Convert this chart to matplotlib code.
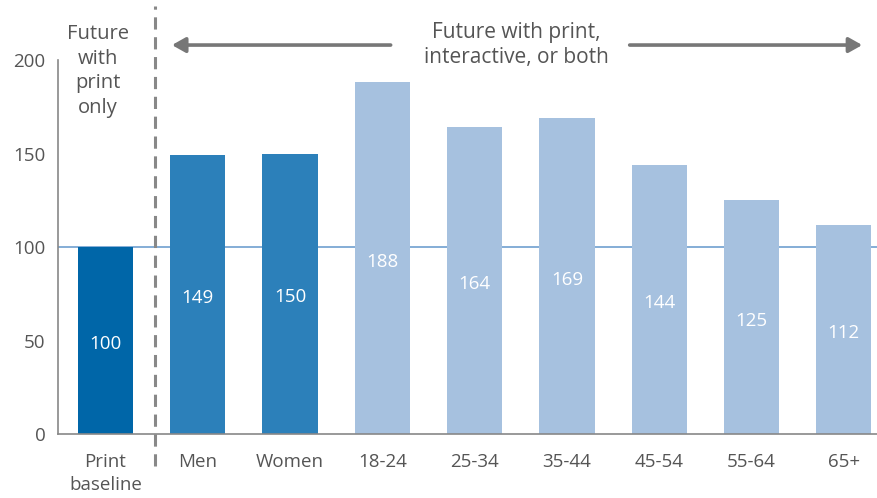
import matplotlib
matplotlib.use("Agg")
import matplotlib.pyplot as plt

plt.rcParams["font.family"] = ["Open Sans", "DejaVu Sans"]

# data
categories = ["Print\nbaseline", "Men", "Women", "18-24", "25-34", "35-44", "45-54", "55-64", "65+"]
values = [100, 149, 150, 188, 164, 169, 144, 125, 112]
yticks = [0, 50, 100, 150, 200]

# colours per group
dark = "#0066a8"
mid = "#2c80ba"
light = "#a6c1df"
bar_colors = [dark, mid, mid] + [light] * 6
gray = "#555555"

fig = plt.figure(figsize=(8.77, 4.98), dpi=100)
ax = fig.add_axes([0.0661, 0.1285, 0.9339, 0.751])

x = list(range(len(categories)))
ax.bar(x, values, width=0.6, color=bar_colors, zorder=2)

# reference line at the print baseline
ax.axhline(100, color="#6fa0d0", lw=1.2, zorder=1)

# value labels in the middle of each bar
for xi, v in zip(x, values):
    ax.text(xi, v / 2 - 2, str(v), ha="center", va="center", color="white", fontsize=13.5, zorder=3)

ax.set_xlim(-0.515, 8.36)
ax.set_ylim(0, 200)
ax.set_yticks(yticks)
ax.set_xticks(x)
ax.set_xticklabels(categories, linespacing=1.35)
ax.tick_params(axis="both", length=0, colors=gray, labelsize=13.5)
ax.tick_params(axis="x", pad=14)
ax.tick_params(axis="y", pad=9)
for s in ["top", "right"]:
    ax.spines[s].set_visible(False)
for s in ["left", "bottom"]:
    ax.spines[s].set_color("#888888")
    ax.spines[s].set_linewidth(1.2)

# dashed divider between baseline and the rest
ax.plot([0.54, 0.54], [-17, 229], color="#888888", lw=2.2, ls=(0, (4, 2.5)),
        clip_on=False, zorder=4)

# annotations
ax.text(-0.08, 194, "Future\nwith\nprint\nonly", ha="center", va="center", color=gray,
        fontsize=14.5, linespacing=1.3)
ax.text(4.45, 208, "Future with print,\ninteractive, or both", ha="center", va="center",
        color=gray, fontsize=15, linespacing=1.25)
arrow_kw = dict(arrowstyle="-|>,head_length=0.8,head_width=0.45", color="#777777", lw=2.6,
                shrinkA=0, shrinkB=0)
ax.annotate("", xy=(0.72, 208), xytext=(3.09, 208), arrowprops=arrow_kw, annotation_clip=False)
ax.annotate("", xy=(8.2, 208), xytext=(5.68, 208), arrowprops=arrow_kw, annotation_clip=False)

fig.savefig("out.png", dpi=100)
